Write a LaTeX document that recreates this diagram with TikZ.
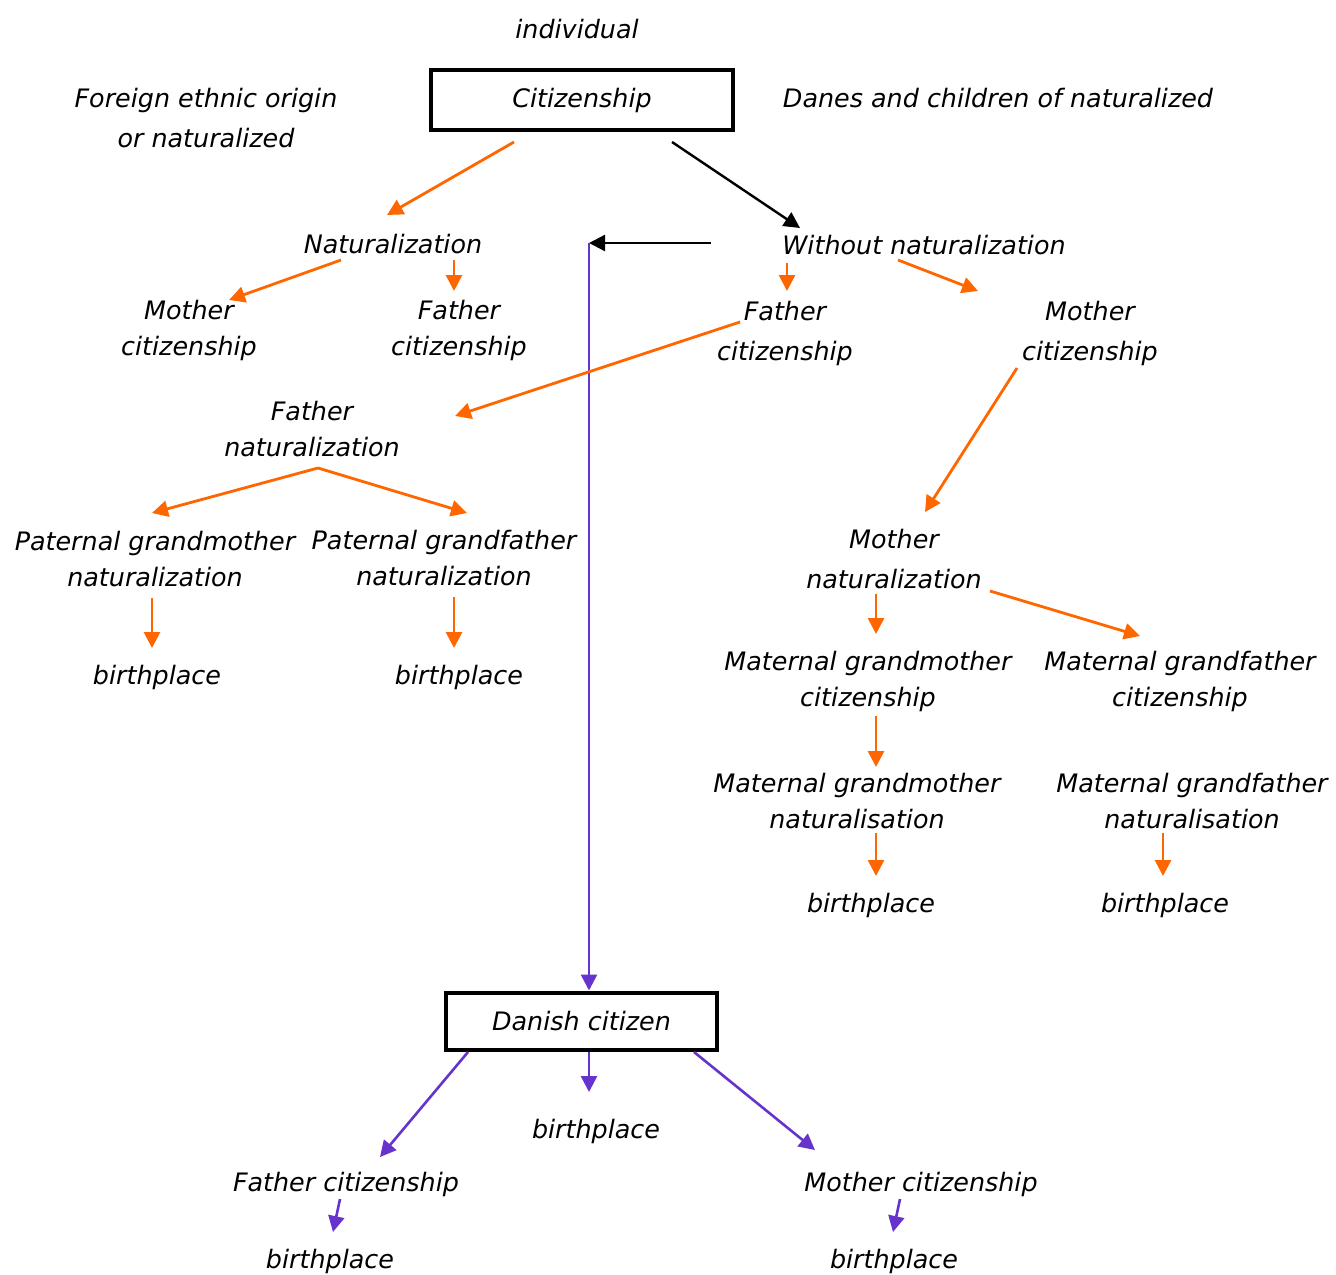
\documentclass[tikz,border=0pt]{standalone}
\usepackage{fontspec}
\setmainfont{DejaVu Sans}
\usetikzlibrary{arrows.meta,calc}
\definecolor{NatOrange}{RGB}{255,102,0}
\definecolor{CitPurple}{RGB}{102,51,204}
\tikzset{
  lbl/.style={font=\fontsize{12.7}{18}\selectfont\itshape,align=center,inner sep=0pt},
  lblwide/.style={font=\fontsize{12.7}{20}\selectfont\itshape,align=center,inner sep=0pt},
  framebox/.style={draw=black,line width=2pt,font=\fontsize{12.7}{18}\selectfont\itshape,
    align=center,inner sep=0pt},
  oarrow/.style={-{Triangle[length=8pt,width=8pt]},line width=1.4pt,NatOrange},
  parrow/.style={-{Triangle[length=8pt,width=8pt]},line width=1.3pt,CitPurple},
  karrow/.style={-{Triangle[length=8pt,width=8pt]},line width=1.2pt,black}
}

\begin{document}
\begin{tikzpicture}[x=0.5pt,y=-0.5pt]
  \useasboundingbox (0,0) rectangle (1336,1274);
  % top
  \node[lbl] (ind) at (577,29) {individual};
  \node[framebox,minimum width=151pt,minimum height=30pt] (cit) at (582,100) {Citizenship};
  \node[lblwide] (forn) at (206,118) {Foreign ethnic origin\\or naturalized};
  \node[lbl] (danes) at (998,98) {Danes and children of naturalized};
  \node[lbl] (nat) at (393,244) {Naturalization};
  \node[lbl] (wnat) at (924,245) {Without naturalization};
  \coordinate (turn) at (589,243);
  % naturalization branch
  \node[lbl] (mcit1) at (189,330) {Mother\\citizenship};
  \node[lbl] (fcit1) at (459,330) {Father\\citizenship};
  % without naturalization branch
  \node[lblwide] (fcit2) at (785,333) {Father\\citizenship};
  \node[lblwide] (mcit2) at (1090,333) {Mother\\citizenship};
  \node[lbl] (fnat) at (312,429) {Father\\naturalization};
  \node[lbl] (pgm) at (155,559) {Paternal grandmother\\naturalization};
  \node[lbl] (pgf) at (444,558) {Paternal grandfather\\naturalization};
  \node[lbl] (bp1) at (157,677) {birthplace};
  \node[lbl] (bp2) at (459,677) {birthplace};
  \node[lblwide] (mnat) at (894,559) {Mother\\naturalization};
  \node[lbl] (mgmc) at (868,681) {Maternal grandmother\\citizenship};
  \node[lbl] (mgfc) at (1180,681) {Maternal grandfather\\citizenship};
  \node[lbl] (mgmn) at (857,801) {Maternal grandmother\\naturalisation};
  \node[lbl] (mgfn) at (1192,801) {Maternal grandfather\\naturalisation};
  \node[lbl] (bp3) at (871,905) {birthplace};
  \node[lbl] (bp4) at (1165,905) {birthplace};
  % danish citizen
  \node[framebox,minimum width=135.5pt,minimum height=28.5pt] (dan) at (581.5,1021.5) {Danish citizen};
  \node[lbl] (bp5) at (596,1131) {birthplace};
  \node[lbl] (fcit3) at (346,1184) {Father citizenship};
  \node[lbl] (mcit3) at (921,1184) {Mother citizenship};
  \node[lbl] (bp6) at (330,1261) {birthplace};
  \node[lbl] (bp7) at (894,1261) {birthplace};

  \draw[oarrow] ($(cit)+(-68,42)$) -- ($(nat)+(-6,-29)$);
  \draw[karrow] ($(cit)+(90,42)$) -- ($(wnat)+(-124,-17)$);
  \draw[karrow] ($(wnat)+(-213,-2)$) -- (turn);
  \draw[parrow] (turn) -- ($(dan)+(7.5,-31)$);
  \draw[oarrow] ($(nat)+(-52,16)$) -- ($(mcit1)+(40,-30)$);
  \draw[oarrow] ($(nat)+(61,16)$) -- ($(fcit1)+(-5,-39)$);
  \draw[oarrow] ($(wnat)+(-137,18)$) -- ($(fcit2)+(2,-42)$);
  \draw[oarrow] ($(wnat)+(-26,15)$) -- ($(mcit2)+(-112,-42)$);
  \draw[oarrow] ($(fcit2)+(-45,-11)$) -- ($(fnat)+(143,-13)$);
  \draw[oarrow] ($(fnat)+(6,39)$) -- ($(pgm)+(-3,-46)$);
  \draw[oarrow] ($(fnat)+(6,39)$) -- ($(pgf)+(23,-45)$);
  \draw[oarrow] ($(pgm)+(-3,39)$) -- ($(bp1)+(-5,-29)$);
  \draw[oarrow] ($(pgf)+(10,39)$) -- ($(bp2)+(-5,-29)$);
  \draw[oarrow] ($(mcit2)+(-73,35)$) -- ($(mnat)+(31,-47)$);
  \draw[oarrow] ($(mnat)+(-18,35)$) -- ($(mgmc)+(8,-47)$);
  \draw[oarrow] ($(mnat)+(96,32)$) -- ($(mgfc)+(-40,-45)$);
  \draw[oarrow] ($(mgmc)+(8,35)$) -- ($(mgmn)+(19,-34)$);
  \draw[oarrow] ($(mgmn)+(19,32)$) -- ($(bp3)+(5,-29)$);
  \draw[oarrow] ($(mgfn)+(-29,32)$) -- ($(bp4)+(-2,-29)$);
  \draw[parrow] ($(dan)+(-113.5,30.5)$) -- ($(fcit3)+(34,-27)$);
  \draw[parrow] ($(dan)+(7.5,30.5)$) -- ($(bp5)+(-7,-39)$);
  \draw[parrow] ($(dan)+(112.5,30.5)$) -- ($(mcit3)+(-106,-34)$);
  \draw[parrow] ($(fcit3)+(-6,15)$) -- ($(bp6)+(3,-29)$);
  \draw[parrow] ($(mcit3)+(-21,15)$) -- ($(bp7)+(-1,-29)$);
\end{tikzpicture}
\end{document}
